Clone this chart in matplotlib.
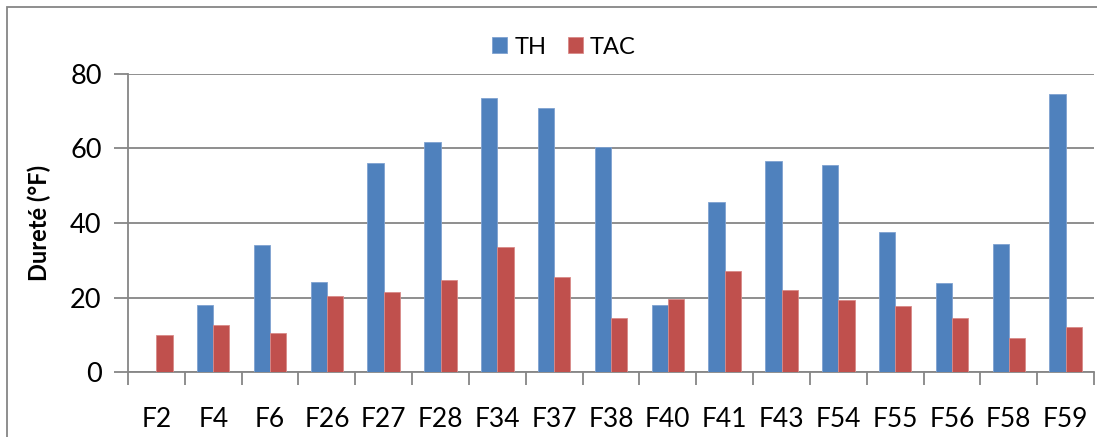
import matplotlib.pyplot as plt
import numpy as np
from matplotlib.patches import Rectangle

plt.rcParams['font.family'] = ['Lato', 'DejaVu Sans']

# Hardness per borehole (°F)
sites = ["F2", "F4", "F6", "F26", "F27", "F28", "F34", "F37", "F38",
         "F40", "F41", "F43", "F54", "F55", "F56", "F58", "F59"]
th = [0, 17.9, 34.1, 24.2, 56.0, 61.7, 73.5, 71.0, 60.5,
      18.1, 45.7, 56.6, 55.6, 37.7, 23.8, 34.3, 74.5]
tac = [10.0, 12.6, 10.6, 20.3, 21.4, 24.8, 33.5, 25.4, 14.4,
       19.5, 27.1, 22.1, 19.3, 17.7, 14.4, 9.0, 12.2]

blue = "#4F81BD"
red = "#C0504D"
grey = "#868686"

fig = plt.figure(figsize=(10.97, 4.37), dpi=100)
ax = fig.add_axes([0.1167, 0.1487, 0.8806, 0.682])

x = np.arange(len(sites))
w = 1 / 3.5
ax.bar(x - w / 2, th, w, color=blue, label="TH", edgecolor="#7FA2D0", linewidth=0.6, zorder=3)
ax.bar(x + w / 2, tac, w, color=red, label="TAC", edgecolor="#D98A88", linewidth=0.6, zorder=3)

ax.set_xlim(-0.5, len(sites) - 0.5)
ax.set_ylim(0, 80)
ax.set_yticks([0, 20, 40, 60, 80])
ax.set_xticks(x)
ax.set_xticklabels(sites)
ax.set_xticks(np.arange(len(sites) + 1) - 0.5, minor=True)

ax.grid(axis="y", color=grey, linewidth=1.3, zorder=0)
for side in ["top", "right"]:
    ax.spines[side].set_visible(False)
for side in ["left", "bottom"]:
    ax.spines[side].set_color(grey)
    ax.spines[side].set_linewidth(1.3)

ax.tick_params(axis="y", labelsize=19.5, length=10, width=1.3, color=grey, pad=9)
ax.tick_params(axis="x", which="major", labelsize=19, length=0, pad=25)
ax.tick_params(axis="x", which="minor", length=9, width=1.3, color=grey)

ax.set_ylabel("Dureté (°F)", fontsize=17, fontweight="bold", labelpad=14)

fig.legend(loc="center", bbox_to_anchor=(0.514, 1 - 47 / 437), ncol=2, frameon=False,
           fontsize=17, handlelength=0.65, handleheight=0.65, handletextpad=0.3,
           columnspacing=0.9)

# chart frame
fig.patches.append(Rectangle((7 / 1097, -0.05), 1.2, 1.05 - 7 / 437,
                             transform=fig.transFigure, fill=False,
                             edgecolor=grey, linewidth=1.3))

fig.savefig("out.png", dpi=100)
